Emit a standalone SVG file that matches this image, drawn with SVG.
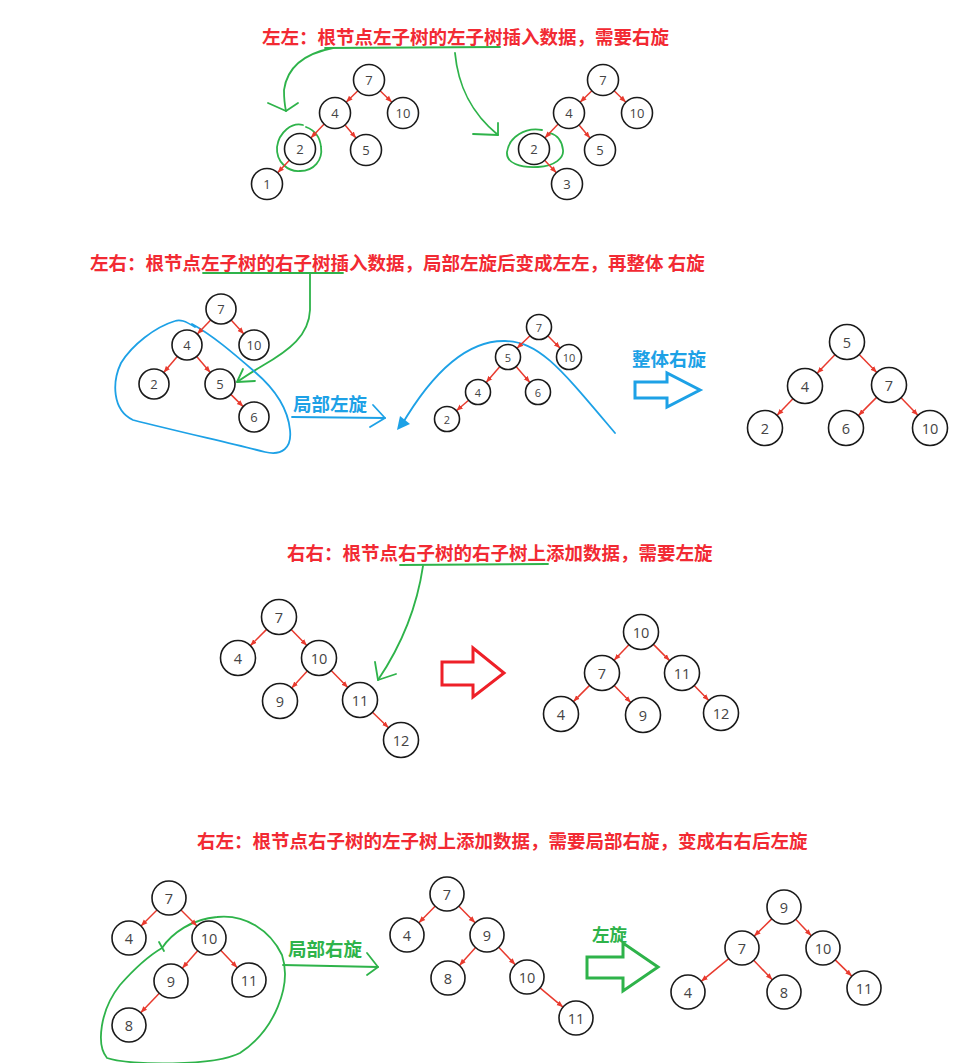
<svg xmlns="http://www.w3.org/2000/svg" width="979" height="1063" viewBox="0 0 979 1063">
<style>
.title{font-family:"Noto Sans CJK SC","Noto Sans",sans-serif;font-weight:bold;font-size:18.5px;fill:#f22a33;dominant-baseline:central}
.lblb{font-family:"Noto Sans CJK SC","Noto Sans",sans-serif;font-weight:bold;font-size:18.5px;fill:#1da1e6;dominant-baseline:central}
.lblg{font-family:"Noto Sans CJK SC","Noto Sans",sans-serif;font-weight:bold;font-size:18.5px;fill:#2eb34a;dominant-baseline:central}
.n circle{fill:#fff;stroke:#1a1a1a;stroke-width:1.6}
.n text{font-family:"Open Sans","Noto Sans",sans-serif;fill:#444;text-anchor:middle;dominant-baseline:central;font-size:13px}
.n.xs text{font-size:11px}
.n.lg text{font-size:14.5px}
.e line{stroke:#e83a2e;stroke-width:1.5;marker-end:url(#ah)}
.g{fill:none;stroke:#2eb34a;stroke-width:1.8;stroke-linecap:round;stroke-linejoin:round}
.b{fill:none;stroke:#1da1e6;stroke-width:1.8;stroke-linecap:round;stroke-linejoin:round}
.hb{fill:#fff;stroke:#1da1e6;stroke-width:3}
.hr{fill:#fff;stroke:#ee2028;stroke-width:3}
.hg{fill:#fff;stroke:#2eb34a;stroke-width:3}
</style>
<defs>
<marker id="ah" viewBox="0 0 10 10" refX="10" refY="5" markerWidth="6.5" markerHeight="6.5" markerUnits="userSpaceOnUse" orient="auto">
<path d="M0,1 L10,5 L0,9 z" fill="#e83a2e"/>
</marker>
</defs>
<rect width="979" height="1063" fill="#fff"/>

<!-- titles -->
<text class="title" x="262" y="36">左左：根节点左子树的左子树插入数据，需要右旋</text>
<text class="title" x="90" y="262">左右：根节点左子树的右子树插入数据，局部左旋后变成左左，再整体 右旋</text>
<text class="title" x="287" y="552">右右：根节点右子树的右子树上添加数据，需要左旋</text>
<text class="title" x="197" y="840">右左：根节点右子树的左子树上添加数据，需要局部右旋，变成右右后左旋</text>

<!-- labels -->
<text class="lblb" x="293" y="403">局部左旋</text>
<text class="lblb" x="632" y="358">整体右旋</text>
<text class="lblg" x="288" y="948">局部右旋</text>
<text class="lblg" x="592" y="933" style="font-size:17.5px">左旋</text>

<!-- annotations -->
<g id="annotations">
<path class="g" d="M325,48 L500,47"/>
<path class="g" d="M333,48 C302,54 287,68 284,90 Q284,102 286,111"/>
<path class="g" d="M268,103 L286,111 L298,103"/>
<path class="g" d="M303,125 C292,122 279,132 277,147 C276,162 288,172 300,171 C314,171 323,160 321,147 C320,137 314,130 306,127"/>
<path class="g" d="M455,53 C458,85 470,112 498,135"/>
<path class="g" d="M473,134 L498,135 L498,123"/>
<path class="g" d="M542,130 C525,127 509,137 507,152 C506,163 520,168 538,167 C555,166 564,158 563,150 C562,141 557,135 550,133"/>

<path class="g" d="M203,273 L343,273"/>
<path class="g" d="M310,274 L310,310 C309,335 290,350 262,366 C252,372 243,378 237,382"/>
<path class="g" d="M243,369 L237,382 L255,381"/>
<path class="b" d="M195,327 C185,321 180,319 175,321 C155,327 132,345 121,363 C112,382 112,410 133,420 C180,432 230,443 265,452 C282,456 292,448 290,430 C288,410 276,390 255,372 C232,352 212,335 192,324"/>
<path class="b" d="M292,417 L385,418"/>
<path class="b" d="M373,405 L385,418 L370,427"/>
<path class="b" d="M401,426 C425,385 460,340 505,341 C540,342 560,368 615,433"/>
<path d="M397,430 L400,416 L410,424 Z" fill="#1da1e6"/>
<polygon class="hb" points="635,382 667,382 667,373 700,390 667,407 667,398 635,398"/>

<path class="g" d="M400,565 L548,564"/>
<path class="g" d="M423,566 C418,600 405,640 378,680"/>
<path class="g" d="M375,662 L378,680 L396,674"/>
<polygon class="hr" points="442,662 473,662 473,648 504,673 473,697 473,685 442,685"/>

<path class="g" d="M162,948 C172,933 192,919 217,917 C245,914 270,930 282,955 C292,985 275,1030 240,1053 C215,1066 130,1066 107,1058 C96,1045 100,1010 120,985 C135,968 150,955 162,948"/>
<path class="g" d="M159,942 L164,951"/>
<path class="g" d="M283,965 L378,967"/>
<path class="g" d="M367,953 L378,967 L367,975"/>
<polygon class="hg" points="587,957 623,957 623,943 658,967 623,991 623,978 587,978"/>
</g>

<!-- connectors -->
<g id="connectors" class="e">
<line x1="357.9" y1="90.8" x2="346.1" y2="102.2"/>
<line x1="380.1" y1="90.8" x2="391.9" y2="102.2"/>
<line x1="324.2" y1="124.1" x2="310.8" y2="137.9"/>
<line x1="345" y1="124.9" x2="356" y2="138.1"/>
<line x1="289.4" y1="160.3" x2="277.6" y2="172.7"/>

<line x1="591.9" y1="90.8" x2="580.1" y2="102.2"/>
<line x1="614.1" y1="90.8" x2="625.9" y2="102.2"/>
<line x1="558.2" y1="124.1" x2="544.8" y2="137.9"/>
<line x1="579" y1="124.9" x2="590" y2="138.1"/>
<line x1="544.6" y1="160.3" x2="556.4" y2="172.7"/>

<line x1="210.7" y1="319.9" x2="197.3" y2="334.1"/>
<line x1="231.1" y1="320.1" x2="243.9" y2="333.9"/>
<line x1="177.3" y1="356.4" x2="163.7" y2="372.6"/>
<line x1="196.7" y1="356.4" x2="210.3" y2="372.6"/>
<line x1="230.8" y1="394.4" x2="243.2" y2="406.6"/>

<line x1="530" y1="335.7" x2="517" y2="348.3"/>
<line x1="547.8" y1="335.8" x2="560.2" y2="348.2"/>
<line x1="499.9" y1="366.5" x2="486.1" y2="382.5"/>
<line x1="516.1" y1="366.5" x2="529.9" y2="382.5"/>
<line x1="468.6" y1="400.2" x2="456.4" y2="410.8"/>

<line x1="834.9" y1="354.7" x2="817.1" y2="373.3"/>
<line x1="859.2" y1="354.5" x2="876.8" y2="372.5"/>
<line x1="792.9" y1="398.7" x2="777.1" y2="415.3"/>
<line x1="876.6" y1="397.4" x2="858.4" y2="415.6"/>
<line x1="901.1" y1="397.7" x2="917.9" y2="415.3"/>

<line x1="266.6" y1="629.4" x2="250.4" y2="645.6"/>
<line x1="291.2" y1="629.5" x2="306.8" y2="645.5"/>
<line x1="307.3" y1="671" x2="291.7" y2="688"/>
<line x1="331.2" y1="670.5" x2="347.8" y2="687.5"/>
<line x1="372.5" y1="712.2" x2="388.5" y2="727.8"/>

<line x1="628.9" y1="644.7" x2="614.1" y2="660.3"/>
<line x1="653.4" y1="644.4" x2="669.6" y2="660.6"/>
<line x1="589.6" y1="685.4" x2="573.4" y2="701.6"/>
<line x1="614.2" y1="685.5" x2="630.8" y2="702.5"/>
<line x1="694.2" y1="685.5" x2="708.8" y2="700.5"/>

<line x1="157" y1="910" x2="141" y2="926"/>
<line x1="181" y1="910" x2="197" y2="926"/>
<line x1="197.7" y1="950.7" x2="182.3" y2="968.3"/>
<line x1="220.7" y1="950.3" x2="237.3" y2="967.7"/>
<line x1="159.3" y1="993.3" x2="140.7" y2="1012.7"/>

<line x1="435.1" y1="906.2" x2="418.9" y2="922.8"/>
<line x1="458.9" y1="906.2" x2="475.1" y2="922.8"/>
<line x1="475.6" y1="947.6" x2="459.4" y2="965.4"/>
<line x1="498.7" y1="947.3" x2="515.3" y2="964.7"/>
<line x1="540" y1="987.9" x2="563" y2="1007.1"/>

<line x1="771.8" y1="918.9" x2="754.2" y2="936.1"/>
<line x1="795.7" y1="919.3" x2="811.3" y2="935.7"/>
<line x1="728.8" y1="958.7" x2="701.2" y2="981.3"/>
<line x1="753.7" y1="960.3" x2="772.3" y2="979.7"/>
<line x1="835.2" y1="959.9" x2="851.8" y2="976.1"/>
</g>

<!-- section 1 left -->
<g id="s1a-7" class="n"><circle cx="369" cy="80" r="15.5"/><text x="369" y="80">7</text></g>
<g id="s1a-4" class="n"><circle cx="335" cy="113" r="15.5"/><text x="335" y="113">4</text></g>
<g id="s1a-10" class="n"><circle cx="403" cy="113" r="15.5"/><text x="403" y="113">10</text></g>
<g id="s1a-2" class="n"><circle cx="300" cy="149" r="15.5"/><text x="300" y="149">2</text></g>
<g id="s1a-5" class="n"><circle cx="366" cy="150" r="15.5"/><text x="366" y="150">5</text></g>
<g id="s1a-1" class="n"><circle cx="267" cy="184" r="15.5"/><text x="267" y="184">1</text></g>
<!-- section 1 right -->
<g id="s1b-7" class="n"><circle cx="603" cy="80" r="15.5"/><text x="603" y="80">7</text></g>
<g id="s1b-4" class="n"><circle cx="569" cy="113" r="15.5"/><text x="569" y="113">4</text></g>
<g id="s1b-10" class="n"><circle cx="637" cy="113" r="15.5"/><text x="637" y="113">10</text></g>
<g id="s1b-2" class="n"><circle cx="534" cy="149" r="15.5"/><text x="534" y="149">2</text></g>
<g id="s1b-5" class="n"><circle cx="600" cy="150" r="15.5"/><text x="600" y="150">5</text></g>
<g id="s1b-3" class="n"><circle cx="567" cy="184" r="15.5"/><text x="567" y="184">3</text></g>

<!-- section 2 left -->
<g id="s2a-7" class="n"><circle cx="221" cy="309" r="15"/><text x="221" y="309">7</text></g>
<g id="s2a-4" class="n"><circle cx="187" cy="345" r="15"/><text x="187" y="345">4</text></g>
<g id="s2a-10" class="n"><circle cx="254" cy="345" r="15"/><text x="254" y="345">10</text></g>
<g id="s2a-2" class="n"><circle cx="154" cy="384" r="15"/><text x="154" y="384">2</text></g>
<g id="s2a-5" class="n"><circle cx="220" cy="384" r="15"/><text x="220" y="384">5</text></g>
<g id="s2a-6" class="n"><circle cx="254" cy="417" r="15"/><text x="254" y="417">6</text></g>
<!-- section 2 middle -->
<g id="s2b-7" class="n xs"><circle cx="539" cy="327" r="12.5"/><text x="539" y="327">7</text></g>
<g id="s2b-5" class="n xs"><circle cx="508" cy="357" r="12.5"/><text x="508" y="357">5</text></g>
<g id="s2b-10" class="n xs"><circle cx="569" cy="357" r="12.5"/><text x="569" y="357">10</text></g>
<g id="s2b-4" class="n xs"><circle cx="478" cy="392" r="12.5"/><text x="478" y="392">4</text></g>
<g id="s2b-6" class="n xs"><circle cx="538" cy="392" r="12.5"/><text x="538" y="392">6</text></g>
<g id="s2b-2" class="n xs"><circle cx="447" cy="419" r="12.5"/><text x="447" y="419">2</text></g>
<!-- section 2 right -->
<g id="s2c-5" class="n lg"><circle cx="847" cy="342" r="17.5"/><text x="847" y="342">5</text></g>
<g id="s2c-4" class="n lg"><circle cx="805" cy="386" r="17.5"/><text x="805" y="386">4</text></g>
<g id="s2c-7" class="n lg"><circle cx="889" cy="385" r="17.5"/><text x="889" y="385">7</text></g>
<g id="s2c-2" class="n lg"><circle cx="765" cy="428" r="17.5"/><text x="765" y="428">2</text></g>
<g id="s2c-6" class="n lg"><circle cx="846" cy="428" r="17.5"/><text x="846" y="428">6</text></g>
<g id="s2c-10" class="n lg"><circle cx="930" cy="428" r="17.5"/><text x="930" y="428">10</text></g>

<!-- section 3 left -->
<g id="s3a-7" class="n lg"><circle cx="279" cy="617" r="17.5"/><text x="279" y="617">7</text></g>
<g id="s3a-4" class="n lg"><circle cx="238" cy="658" r="17.5"/><text x="238" y="658">4</text></g>
<g id="s3a-10" class="n lg"><circle cx="319" cy="658" r="17.5"/><text x="319" y="658">10</text></g>
<g id="s3a-9" class="n lg"><circle cx="280" cy="701" r="17.5"/><text x="280" y="701">9</text></g>
<g id="s3a-11" class="n lg"><circle cx="360" cy="700" r="17.5"/><text x="360" y="700">11</text></g>
<g id="s3a-12" class="n lg"><circle cx="401" cy="740" r="17.5"/><text x="401" y="740">12</text></g>
<!-- section 3 right -->
<g id="s3b-10" class="n lg"><circle cx="641" cy="632" r="17.5"/><text x="641" y="632">10</text></g>
<g id="s3b-7" class="n lg"><circle cx="602" cy="673" r="17.5"/><text x="602" y="673">7</text></g>
<g id="s3b-11" class="n lg"><circle cx="682" cy="673" r="17.5"/><text x="682" y="673">11</text></g>
<g id="s3b-4" class="n lg"><circle cx="561" cy="714" r="17.5"/><text x="561" y="714">4</text></g>
<g id="s3b-9" class="n lg"><circle cx="643" cy="715" r="17.5"/><text x="643" y="715">9</text></g>
<g id="s3b-12" class="n lg"><circle cx="721" cy="713" r="17.5"/><text x="721" y="713">12</text></g>

<!-- section 4 left -->
<g id="s4a-7" class="n lg"><circle cx="169" cy="898" r="17"/><text x="169" y="898">7</text></g>
<g id="s4a-4" class="n lg"><circle cx="129" cy="938" r="17"/><text x="129" y="938">4</text></g>
<g id="s4a-10" class="n lg"><circle cx="209" cy="938" r="17"/><text x="209" y="938">10</text></g>
<g id="s4a-9" class="n lg"><circle cx="171" cy="981" r="17"/><text x="171" y="981">9</text></g>
<g id="s4a-11" class="n lg"><circle cx="249" cy="980" r="17"/><text x="249" y="980">11</text></g>
<g id="s4a-8" class="n lg"><circle cx="129" cy="1025" r="17"/><text x="129" y="1025">8</text></g>
<!-- section 4 middle -->
<g id="s4b-7" class="n lg"><circle cx="447" cy="894" r="17"/><text x="447" y="894">7</text></g>
<g id="s4b-4" class="n lg"><circle cx="407" cy="935" r="17"/><text x="407" y="935">4</text></g>
<g id="s4b-9" class="n lg"><circle cx="487" cy="935" r="17"/><text x="487" y="935">9</text></g>
<g id="s4b-8" class="n lg"><circle cx="448" cy="978" r="17"/><text x="448" y="978">8</text></g>
<g id="s4b-10" class="n lg"><circle cx="527" cy="977" r="17"/><text x="527" y="977">10</text></g>
<g id="s4b-11" class="n lg"><circle cx="576" cy="1018" r="17"/><text x="576" y="1018">11</text></g>
<!-- section 4 right -->
<g id="s4c-9" class="n lg"><circle cx="784" cy="907" r="17"/><text x="784" y="907">9</text></g>
<g id="s4c-7" class="n lg"><circle cx="742" cy="948" r="17"/><text x="742" y="948">7</text></g>
<g id="s4c-10" class="n lg"><circle cx="823" cy="948" r="17"/><text x="823" y="948">10</text></g>
<g id="s4c-4" class="n lg"><circle cx="688" cy="992" r="17"/><text x="688" y="992">4</text></g>
<g id="s4c-8" class="n lg"><circle cx="784" cy="992" r="17"/><text x="784" y="992">8</text></g>
<g id="s4c-11" class="n lg"><circle cx="864" cy="988" r="17"/><text x="864" y="988">11</text></g>
</svg>
